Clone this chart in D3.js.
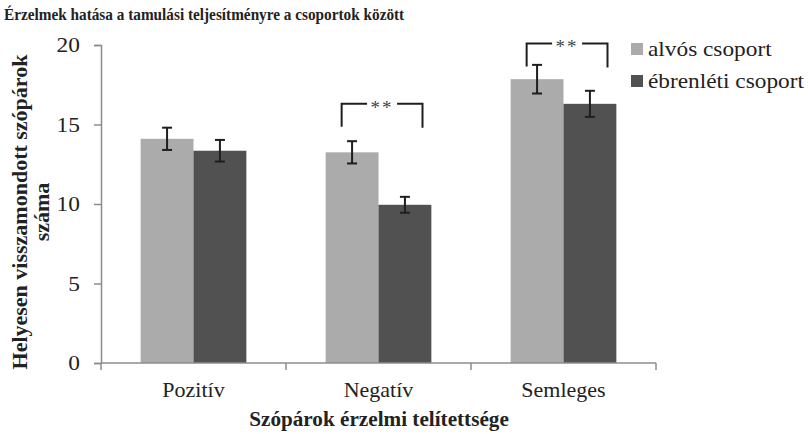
<!DOCTYPE html>
<html>
<head>
<meta charset="utf-8">
<script src="https://cdn.jsdelivr.net/npm/d3@7"></script>
<style>
  body { margin: 0; background: #fff; }
  svg { display: block; }
  svg text { font-family: 'Liberation Serif', serif !important; }
</style>
</head>
<body>
<svg id="chart" width="808" height="434"></svg>
<script>
var categories = ["Pozitív", "Negatív", "Semleges"];
var seriesNames = ["alvós csoport", "ébrenléti csoport"];
var alvos = [14.1, 13.25, 17.85];
var ebren = [13.35, 9.95, 16.3];
var alvosErr = [0.7, 0.7, 0.9];
var ebrenErr = [0.68, 0.5, 0.82];
var yTicks = [0, 5, 10, 15, 20];
// significance brackets: category and height of the bracket top
var sigCats = ["Negatív", "Semleges"];
var sigTop = [16.3, 20.1];
var sigLabel = "**";

var svg = d3.select("#chart"),
  colors = ["#ababab", "#515151"],
  x = d3.scaleBand().domain(categories).range([101, 656]).padding(0),
  xi = d3.scaleBand().domain(seriesNames).range([0, x.bandwidth()])
    .paddingInner(0).paddingOuter(0.75),
  y = d3.scaleLinear().domain([0, 20]).range([363, 45]);

var rows = categories.map(function (c, i) {
  return {cat: c, vals: [
    {s: seriesNames[0], v: alvos[i], e: alvosErr[i]},
    {s: seriesNames[1], v: ebren[i], e: ebrenErr[i]}
  ]};
});

// the original picture is a bit wider than tall, so text is stretched sideways
function label(parent, tx, ty, sx, txt) {
  return parent.append("text")
    .attr("transform", "translate(" + tx + "," + ty + ") scale(" + sx + ",1)")
    .text(txt);
}

// title
label(svg, 4, 20, 0.873, "Érzelmek hatása a tamulási teljesítményre a csoportok között")
  .attr("font-size", 17.5).attr("font-weight", "bold").attr("fill", "#222");

// y axis
var yAxis = svg.append("g")
  .attr("transform", "translate(101,0)")
  .call(d3.axisLeft(y).tickValues(yTicks).tickSize(7).tickPadding(0));
yAxis.select(".domain").attr("stroke", "#8c8c8c").attr("stroke-width", 1.5);
yAxis.selectAll(".tick line").attr("stroke", "#8c8c8c").attr("stroke-width", 1.5);
yAxis.selectAll(".tick text")
  .attr("x", -18).attr("dy", "0.34em")
  .attr("transform", "scale(1.17,1)")
  .attr("font-size", 20).attr("fill", "#222");

// bars
var groups = svg.append("g").selectAll("g")
  .data(rows).join("g")
  .attr("transform", function (d) { return "translate(" + x(d.cat) + ",0)"; });

groups.selectAll("rect")
  .data(function (d) { return d.vals; }).join("rect")
  .attr("x", function (d) { return xi(d.s); })
  .attr("width", xi.bandwidth())
  .attr("y", function (d) { return y(d.v); })
  .attr("height", function (d) { return y(0) - y(d.v); })
  .attr("fill", function (d, i) { return colors[i]; });

// error bars
var eb = groups.selectAll("g.err")
  .data(function (d) { return d.vals; }).join("g")
  .attr("class", "err")
  .attr("stroke", "#1e1e1e").attr("stroke-width", 2);
eb.append("line")
  .attr("x1", function (d) { return xi(d.s) + xi.bandwidth() / 2; })
  .attr("x2", function (d) { return xi(d.s) + xi.bandwidth() / 2; })
  .attr("y1", function (d) { return y(d.v + d.e); })
  .attr("y2", function (d) { return y(d.v - d.e); });
[1, -1].forEach(function (sgn) {
  eb.append("line")
    .attr("x1", function (d) { return xi(d.s) + xi.bandwidth() / 2 - 5; })
    .attr("x2", function (d) { return xi(d.s) + xi.bandwidth() / 2 + 5; })
    .attr("y1", function (d) { return y(d.v + sgn * d.e); })
    .attr("y2", function (d) { return y(d.v + sgn * d.e); });
});

// x axis
var xAxis = svg.append("g")
  .attr("transform", "translate(0,363)");
xAxis.append("line")
  .attr("x1", x.range()[0]).attr("x2", x.range()[1])
  .attr("stroke", "#8c8c8c").attr("stroke-width", 1.5);
xAxis.selectAll("line.tk")
  .data(categories.concat([null])).join("line")
  .attr("class", "tk")
  .attr("x1", function (d) { return d ? x(d) : x.range()[1]; })
  .attr("x2", function (d) { return d ? x(d) : x.range()[1]; })
  .attr("y1", 0).attr("y2", 7)
  .attr("stroke", "#8c8c8c").attr("stroke-width", 1.5);
categories.forEach(function (c) {
  label(xAxis, x(c) + x.bandwidth() / 2, 34, 1.1, c)
    .attr("text-anchor", "middle")
    .attr("font-size", 20).attr("fill", "#222");
});

// axis titles
label(svg, 379, 426, 1.06, "Szópárok érzelmi telítettsége")
  .attr("text-anchor", "middle")
  .attr("font-size", 20).attr("font-weight", "bold").attr("fill", "#222");

var yt = svg.append("text")
  .attr("transform", "translate(27,212) rotate(-90)")
  .attr("text-anchor", "middle")
  .attr("font-size", 22).attr("font-weight", "bold").attr("fill", "#222");
yt.append("tspan").attr("x", 0).attr("dy", 0).text("Helyesen visszamondott szópárok");
yt.append("tspan").attr("x", 0).attr("dy", 22).text("száma");

// significance brackets
sigCats.forEach(function (c, i) {
  var x0 = x(c) + xi(seriesNames[0]) + 16,
    x1 = x(c) + xi(seriesNames[1]) + 44,
    yt0 = y(sigTop[i]),
    mid = (x0 + x1) / 2,
    g = svg.append("g").attr("stroke", "#1e1e1e").attr("stroke-width", 2).attr("fill", "none");
  g.append("path")
    .attr("d", "M" + x0 + "," + (yt0 + 23) + "V" + yt0 + "H" + (mid - 15));
  g.append("path")
    .attr("d", "M" + (mid + 15) + "," + yt0 + "H" + x1 + "V" + (yt0 + 24));
  svg.append("text")
    .attr("x", mid).attr("y", yt0 + 10)
    .attr("text-anchor", "middle")
    .attr("letter-spacing", 2)
    .attr("font-size", 19).attr("fill", "#444")
    .text(sigLabel);
});

// legend
var leg = svg.append("g").selectAll("g")
  .data(seriesNames).join("g")
  .attr("transform", function (d, i) { return "translate(631," + (43 + i * 32) + ")"; });
leg.append("rect")
  .attr("width", 12).attr("height", 12)
  .attr("fill", function (d, i) { return colors[i]; });
leg.each(function (d) {
  label(d3.select(this), 17, 13, 1.06, d)
    .attr("font-size", 22).attr("fill", "#222");
});
</script>
</body>
</html>
